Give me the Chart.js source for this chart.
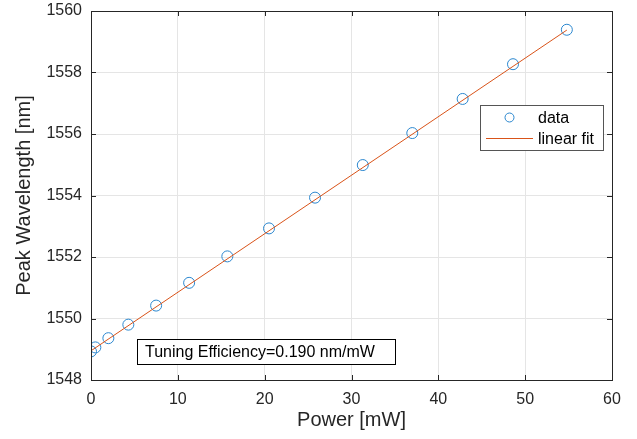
<!DOCTYPE html>
<html>
<head>
<meta charset="utf-8">
<script src="https://cdn.jsdelivr.net/npm/chart.js@4/dist/chart.umd.min.js"></script>
<style>
  html, body { margin: 0; padding: 0; background: #fff; }
  #wrap { width: 637px; height: 439px; }
</style>
</head>
<body>
<div id="wrap"><canvas id="myChart" width="637" height="439"></canvas></div>
<script>
const powerMw = [0, 0.5, 2.0, 4.3, 7.5, 11.3, 15.7, 20.5, 25.8, 31.3, 37.0, 42.8, 48.6, 54.8];
const peakNm = [1548.93, 1549.06, 1549.36, 1549.80, 1550.42, 1551.16, 1552.02, 1552.93, 1553.93, 1554.99, 1556.03, 1557.14, 1558.27, 1559.39];

const fitX = [0, 54.8];
const fitY = [1548.95, 1559.38];

const xTicks = [0, 10, 20, 30, 40, 50, 60];
const yTicks = [1548, 1550, 1552, 1554, 1556, 1558, 1560];

const legendLabels = ["data", "linear fit"];
const noteText = "Tuning Efficiency=0.190 nm/mW";

const FONT = "'Liberation Sans', Arial, sans-serif";
const INK = "#262626";
const BLUE = "#2b87cf";
const ORANGE = "#D95319";

// MATLAB-like frame, inward ticks, legend and note
const extrasPlugin = {
    id: "extras",
    afterDatasetsDraw(chart) {
        const ctx = chart.ctx;
        const {left, right, top, bottom} = chart.chartArea;
        const xs = chart.scales.x, ys = chart.scales.y;

        ctx.save();
        ctx.strokeStyle = INK;
        ctx.lineWidth = 1;
        ctx.beginPath();
        xTicks.forEach(v => {
            const px = Math.round(xs.getPixelForValue(v)) + 0.5;
            ctx.moveTo(px, bottom); ctx.lineTo(px, bottom - 5);
            ctx.moveTo(px, top); ctx.lineTo(px, top + 5);
        });
        yTicks.forEach(v => {
            const py = Math.round(ys.getPixelForValue(v)) + 0.5;
            ctx.moveTo(left, py); ctx.lineTo(left + 5, py);
            ctx.moveTo(right, py); ctx.lineTo(right - 5, py);
        });
        ctx.stroke();
        ctx.strokeRect(Math.round(left) + 0.5, Math.round(top) + 0.5,
            Math.round(right - left), Math.round(bottom - top));

        // legend
        const lx = 480, ly = 105, lw = 123, lh = 45;
        ctx.fillStyle = "#fff";
        ctx.fillRect(lx, ly, lw, lh);
        ctx.strokeStyle = "#555";
        ctx.strokeRect(lx + 0.5, ly + 0.5, lw, lh);
        ctx.strokeStyle = BLUE;
        ctx.beginPath();
        ctx.arc(509.5, 117.5, 4.5, 0, Math.PI * 2);
        ctx.stroke();
        ctx.strokeStyle = ORANGE;
        ctx.beginPath();
        ctx.moveTo(486, 138.5); ctx.lineTo(533, 138.5);
        ctx.stroke();
        ctx.fillStyle = "#000";
        ctx.font = "16px " + FONT;
        ctx.textBaseline = "alphabetic";
        ctx.textAlign = "left";
        ctx.fillText(legendLabels[0], 538, 123);
        ctx.fillText(legendLabels[1], 538, 144);

        // note box
        ctx.fillStyle = "#fff";
        ctx.fillRect(137, 339, 259, 26);
        ctx.strokeStyle = "#000";
        ctx.strokeRect(137.5, 339.5, 258, 25);
        ctx.fillStyle = "#000";
        ctx.font = "16px " + FONT;
        ctx.fillText(noteText, 145, 357);
        ctx.restore();
    }
};

const ctx = document.getElementById("myChart").getContext("2d");

new Chart(ctx, {
    type: "scatter",
    data: {
        datasets: [
            {
                label: legendLabels[1],
                type: "line",
                data: fitX.map((x, i) => ({x: x, y: fitY[i]})),
                borderColor: ORANGE,
                borderWidth: 1,
                pointRadius: 0,
                fill: false,
                order: 0,
            },
            {
                label: legendLabels[0],
                data: powerMw.map((x, i) => ({x: x, y: peakNm[i]})),
                backgroundColor: "rgba(0,0,0,0)",
                borderColor: BLUE,
                borderWidth: 1,
                pointRadius: 5.5,
                order: 1,
            },
        ],
    },
    options: {
        responsive: false,
        animation: false,
        layout: {padding: {top: 11, right: 25, left: 0, bottom: 0}},
        plugins: {legend: {display: false}, tooltip: {enabled: false}},
        scales: {
            x: {
                type: "linear",
                min: 0, max: 60,
                afterBuildTicks: (s) => { s.ticks = xTicks.map(v => ({value: v})); },
                afterFit: (s) => { s.height = 59; s.paddingLeft = 0; s.paddingRight = 0; },
                grid: {color: "#e5e5e5", drawTicks: false},
                border: {display: false},
                ticks: {color: INK, font: {family: FONT, size: 16}, padding: 10,
                    callback: (v) => String(v)},
                title: {display: true, text: "Power [mW]", color: INK,
                    font: {family: FONT, size: 20}, padding: {bottom: 7}},
            },
            y: {
                type: "linear",
                min: 1548, max: 1560,
                afterBuildTicks: (s) => { s.ticks = yTicks.map(v => ({value: v})); },
                afterFit: (s) => { s.width = 91; s.paddingTop = 0; s.paddingBottom = 0; },
                grid: {color: "#e5e5e5", drawTicks: false},
                border: {display: false},
                ticks: {color: INK, font: {family: FONT, size: 16}, padding: 9,
                    callback: (v) => String(v)},
                title: {display: true, text: "Peak Wavelength [nm]", color: INK,
                    font: {family: FONT, size: 20}, padding: {top: 12}},
            },
        },
    },
    plugins: [extrasPlugin],
});
</script>
</body>
</html>
